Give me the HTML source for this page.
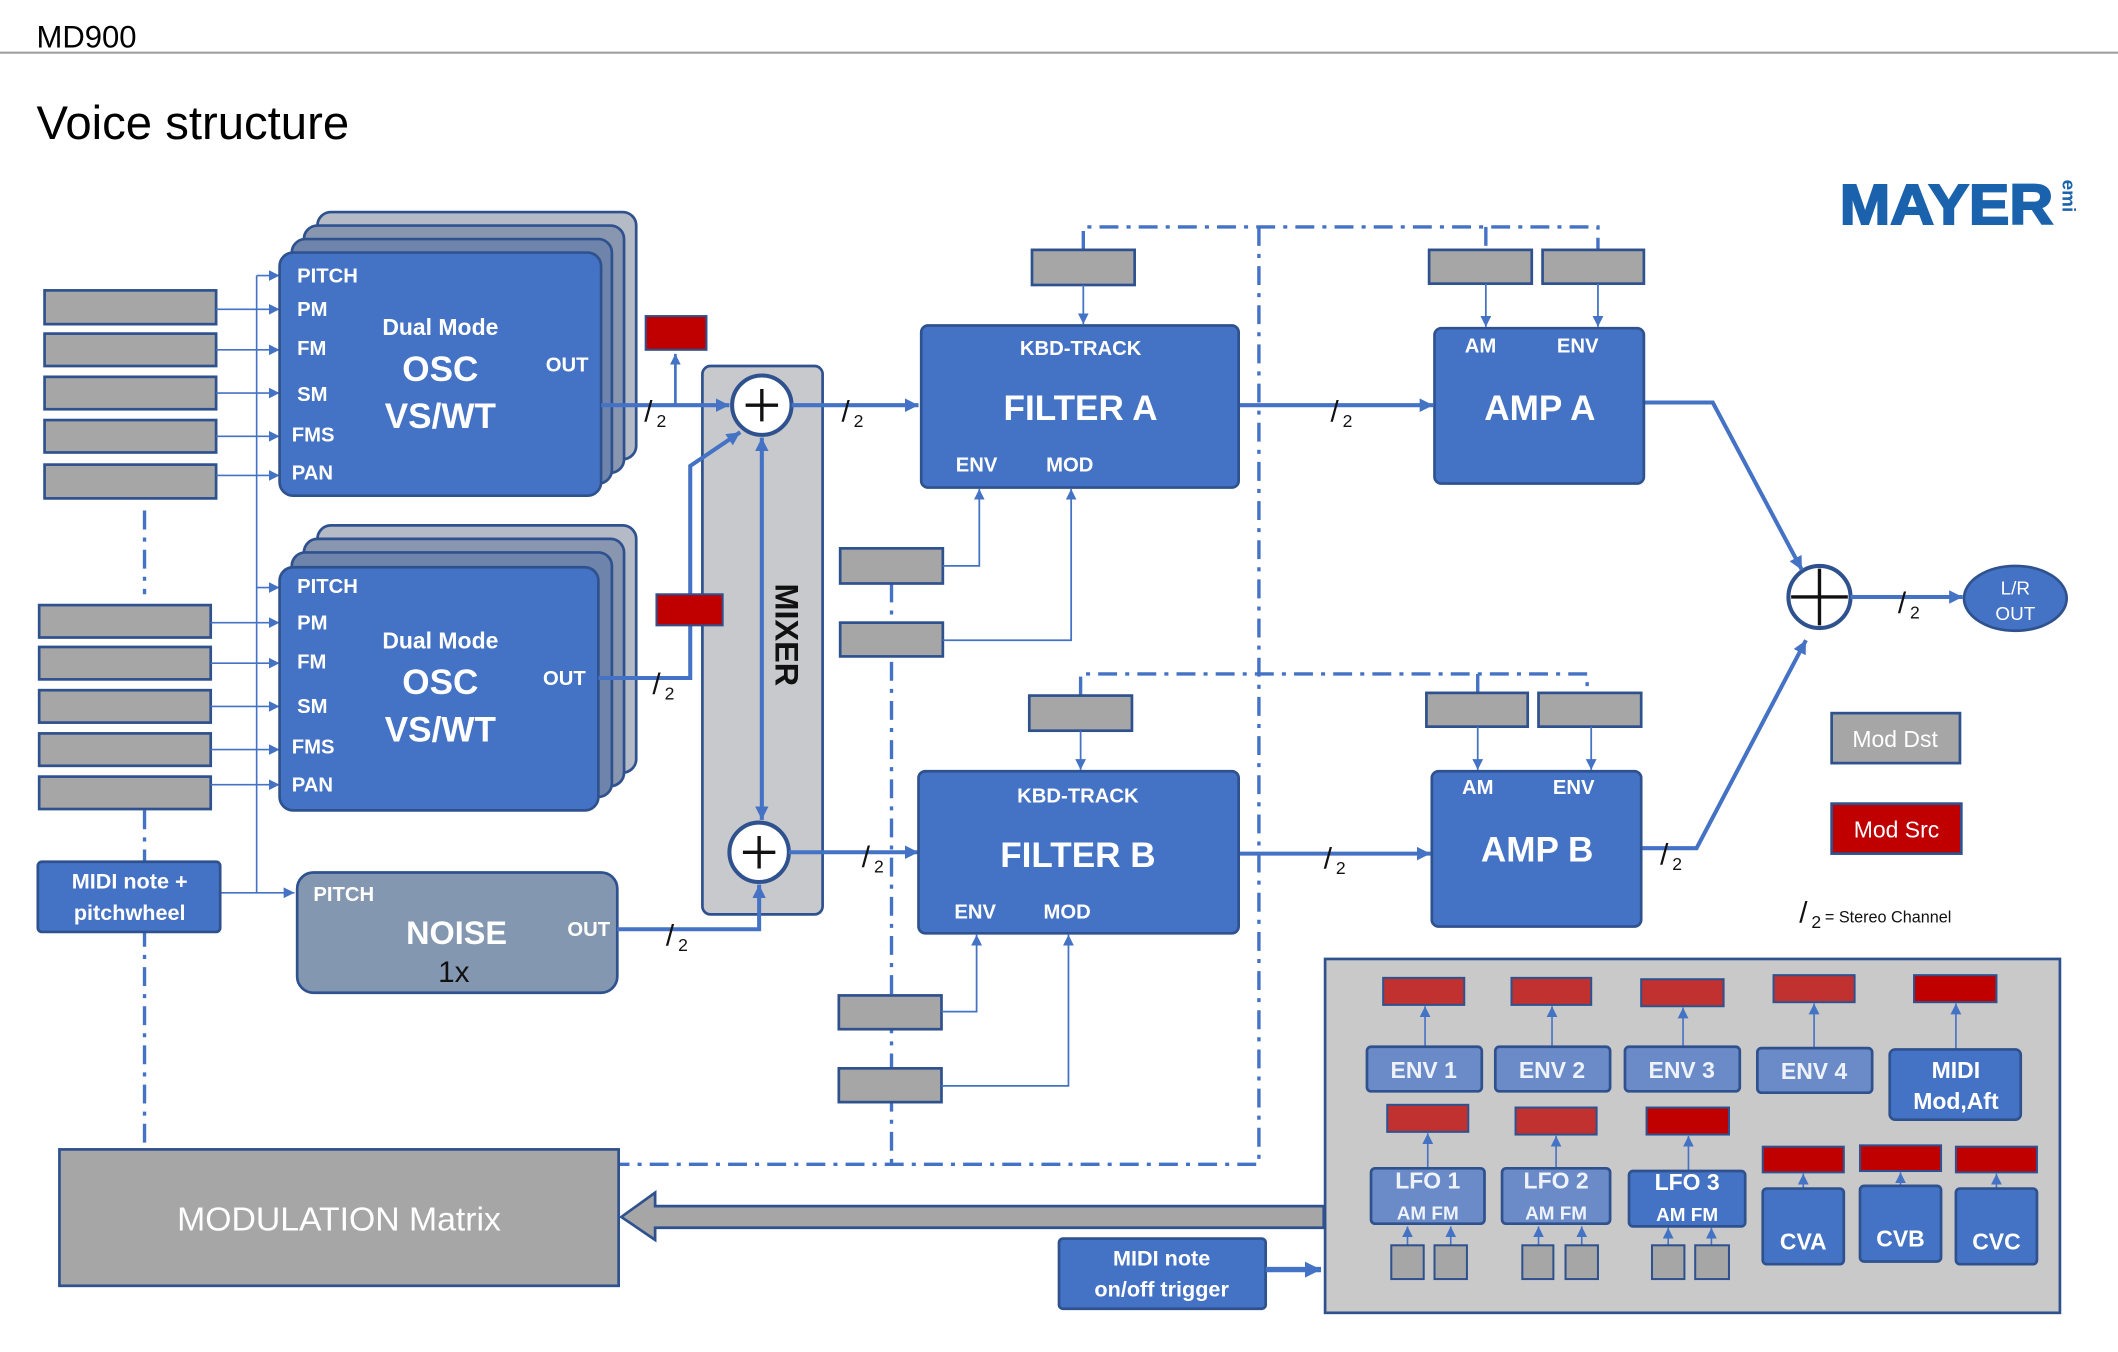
<!DOCTYPE html>
<html><head><meta charset="utf-8"><style>
html,body{margin:0;padding:0;background:#fff;}
svg{display:block;}
text{font-family:"Liberation Sans",sans-serif;}
.w{fill:#fff;font-weight:bold;}
</style></head><body>
<svg width="2118" height="1352" viewBox="0 0 1568 1001" preserveAspectRatio="none" xmlns="http://www.w3.org/2000/svg">
<defs>
<marker id="a" markerUnits="userSpaceOnUse" markerWidth="12" markerHeight="12" refX="10" refY="5" orient="auto-start-reverse"><path d="M0,0 L10,5 L0,10 z" fill="#4472c4"/></marker>
<marker id="as" markerUnits="userSpaceOnUse" markerWidth="10" markerHeight="10" refX="8" refY="4" orient="auto"><path d="M0,0 L8,4 L0,8 z" fill="#4472c4"/></marker>
<marker id="ab" markerUnits="userSpaceOnUse" markerWidth="14" markerHeight="14" refX="12" refY="6" orient="auto"><path d="M0,0 L12,6 L0,12 z" fill="#4472c4"/></marker>
</defs>
<!-- header -->
<text x="27" y="35" font-size="23" fill="#000">MD900</text>
<line x1="0" y1="39" x2="1568" y2="39" stroke="#a0a0a0" stroke-width="1.5"/>
<text x="27" y="103" font-size="35" fill="#000">Voice structure</text>
<text x="1362" y="166" font-size="42" font-weight="900" fill="#1b62ad" textLength="158" lengthAdjust="spacingAndGlyphs" stroke="#1b62ad" stroke-width="1.5">MAYER</text>
<text x="0" y="0" font-size="14" font-weight="bold" fill="#1b62ad" transform="translate(1527,133) rotate(90)">emi</text>

<!-- dash-dot lines -->
<g stroke="#4472c4" stroke-width="2.5" fill="none" stroke-dasharray="14,6,3,6">
<path d="M107,378 V440"/>
<path d="M107,600 V850"/>
<path d="M802,185 V168 H1183 V185"/>
<path d="M1100,168 V185"/>
<path d="M932,168 V862 H458"/>
<path d="M660,432 V862"/>
<path d="M800,515 V499 H1175 V513"/>
<path d="M1094,499 V513"/>
</g>

<!-- left input boxes -->
<g fill="#a6a6a6" stroke="#2f528f" stroke-width="2">
<rect x="33" y="215" width="127" height="25"/><rect x="33" y="247" width="127" height="24"/><rect x="33" y="279" width="127" height="24"/><rect x="33" y="311" width="127" height="24"/><rect x="33" y="344" width="127" height="25"/>
<rect x="29" y="448" width="127" height="24"/><rect x="29" y="479" width="127" height="24"/><rect x="29" y="511" width="127" height="24"/><rect x="29" y="543" width="127" height="24"/><rect x="29" y="575" width="127" height="24"/>
</g>
<g stroke="#4472c4" stroke-width="1.2" fill="none" marker-end="url(#as)">
<path d="M160,229 H207"/><path d="M160,259 H207"/><path d="M160,291 H207"/><path d="M160,323 H207"/><path d="M160,352 H207"/>
<path d="M156,461 H207"/><path d="M156,491 H207"/><path d="M156,523 H207"/><path d="M156,555 H207"/><path d="M156,581 H207"/>
<path d="M190,204 H207"/><path d="M190,435 H207"/><path d="M163,661 H218"/>
</g>
<line x1="190" y1="204" x2="190" y2="661" stroke="#4472c4" stroke-width="1.2"/>

<!-- OSC -->
<g stroke="#2f528f" stroke-width="2">
<rect x="235" y="157" width="236" height="183" rx="10" fill="#b4bac6"/>
<rect x="225" y="167" width="237" height="183" rx="10" fill="#8896b0"/>
<rect x="216" y="177" width="237" height="181" rx="10" fill="#6f84ab"/>
<rect x="207" y="187" width="238" height="180" rx="10" fill="#4472c4"/>
<rect x="235" y="389" width="236" height="183" rx="10" fill="#b4bac6"/>
<rect x="225" y="399" width="237" height="183" rx="10" fill="#8896b0"/>
<rect x="216" y="409" width="237" height="181" rx="10" fill="#6f84ab"/>
<rect x="207" y="420" width="236" height="180" rx="10" fill="#4472c4"/>
</g>
<g class="w" font-size="15">
<text x="220" y="209">PITCH</text><text x="220" y="234">PM</text><text x="220" y="263">FM</text><text x="220" y="297">SM</text><text x="216" y="327">FMS</text><text x="216" y="355">PAN</text><text x="404" y="275">OUT</text>
<text x="220" y="439">PITCH</text><text x="220" y="466">PM</text><text x="220" y="495">FM</text><text x="220" y="528">SM</text><text x="216" y="558">FMS</text><text x="216" y="586">PAN</text><text x="402" y="507">OUT</text>
</g>
<g class="w" text-anchor="middle">
<text x="326" y="248" font-size="17">Dual Mode</text><text x="326" y="282" font-size="26">OSC</text><text x="326" y="317" font-size="26">VS/WT</text>
<text x="326" y="480" font-size="17">Dual Mode</text><text x="326" y="514" font-size="26">OSC</text><text x="326" y="549" font-size="26">VS/WT</text>
</g>

<!-- NOISE -->
<rect x="220" y="646" width="237" height="89" rx="12" fill="#8497b0" stroke="#2f528f" stroke-width="2"/>
<text x="232" y="667" class="w" font-size="15">PITCH</text>
<text x="338" y="699" class="w" font-size="24" text-anchor="middle">NOISE</text>
<text x="336" y="727" font-size="22" text-anchor="middle" fill="#111">1x</text>
<text x="420" y="693" class="w" font-size="15">OUT</text>

<!-- MIXER -->
<rect x="520" y="271" width="89" height="406" rx="6" fill="#c8c9cc" stroke="#2f528f" stroke-width="2"/>
<text x="0" y="0" font-size="24" font-weight="bold" fill="#111" transform="translate(574,432) rotate(90)">MIXER</text>
<line x1="564" y1="324" x2="564" y2="607" stroke="#4472c4" stroke-width="3" marker-end="url(#a)" marker-start="url(#a)"/>
<g fill="#fff" stroke="#2f528f" stroke-width="3">
<circle cx="564" cy="300" r="22"/><circle cx="562" cy="631" r="22"/><circle cx="1347" cy="442" r="23"/>
</g>
<g stroke="#111" stroke-width="2.5">
<path d="M552,300 H576 M564,288 V312"/><path d="M550,631 H574 M562,619 V643"/><path d="M1326,442 H1368 M1347,421 V463"/>
</g>

<!-- thick signal lines -->
<g stroke="#4472c4" stroke-width="3" fill="none">
<path d="M445,300 H540" marker-end="url(#a)"/>
<path d="M443,502 H511 V345 L548,320" marker-end="url(#a)"/>
<path d="M457,688 H562 V655" marker-end="url(#a)"/>
<path d="M586,300 H680" marker-end="url(#a)"/>
<path d="M584,631 H680" marker-end="url(#a)"/>
<path d="M917,300 H1061" marker-end="url(#a)"/>
<path d="M917,632 H1059" marker-end="url(#a)"/>
<path d="M1217,298 H1268 L1334,422" marker-end="url(#a)"/>
<path d="M1215,628 H1256 L1337,474" marker-end="url(#a)"/>
<path d="M1370,442 H1453" marker-end="url(#a)"/>
<path d="M500,300 V262" stroke-width="2" marker-end="url(#as)"/>
</g>
<!-- /2 labels -->
<g font-size="22" fill="#111">
<text x="477" y="312">/</text><text x="486" y="316" font-size="13">2</text>
<text x="483" y="514">/</text><text x="492" y="518" font-size="13">2</text>
<text x="493" y="700">/</text><text x="502" y="704" font-size="13">2</text>
<text x="623" y="312">/</text><text x="632" y="316" font-size="13">2</text>
<text x="638" y="642">/</text><text x="647" y="646" font-size="13">2</text>
<text x="985" y="312">/</text><text x="994" y="316" font-size="13">2</text>
<text x="980" y="643">/</text><text x="989" y="647" font-size="13">2</text>
<text x="1229" y="640">/</text><text x="1238" y="644" font-size="13">2</text>
<text x="1405" y="454">/</text><text x="1414" y="458" font-size="13">2</text>
<text x="1332" y="683">/</text><text x="1341" y="687" font-size="13">2</text>
<text x="1351" y="683" font-size="12">= Stereo Channel</text>
</g>
<rect x="478" y="234" width="45" height="25" fill="#c00000" stroke="#2f528f" stroke-width="1.5"/>
<rect x="486" y="440" width="49" height="23" fill="#c00000" stroke="#2f528f" stroke-width="1.5"/>

<!-- FILTERS / AMPS -->
<g fill="#4472c4" stroke="#2f528f" stroke-width="2">
<rect x="682" y="241" width="235" height="120" rx="5"/>
<rect x="680" y="571" width="237" height="120" rx="5"/>
<rect x="1062" y="243" width="155" height="115" rx="5"/>
<rect x="1060" y="571" width="155" height="115" rx="5"/>
<ellipse cx="1492" cy="443" rx="38" ry="24"/>
</g>
<g class="w" text-anchor="middle">
<text x="800" y="263" font-size="15">KBD-TRACK</text><text x="800" y="311" font-size="26">FILTER A</text>
<text x="723" y="349" font-size="15">ENV</text><text x="792" y="349" font-size="15">MOD</text>
<text x="798" y="594" font-size="15">KBD-TRACK</text><text x="798" y="642" font-size="26">FILTER B</text>
<text x="722" y="680" font-size="15">ENV</text><text x="790" y="680" font-size="15">MOD</text>
<text x="1096" y="261" font-size="15">AM</text><text x="1168" y="261" font-size="15">ENV</text><text x="1140" y="311" font-size="26">AMP A</text>
<text x="1094" y="588" font-size="15">AM</text><text x="1165" y="588" font-size="15">ENV</text><text x="1138" y="638" font-size="26">AMP B</text>
</g>
<g fill="#fff" font-size="14" text-anchor="middle"><text x="1492" y="440">L/R</text><text x="1492" y="459">OUT</text></g>

<g fill="#a6a6a6" stroke="#2f528f" stroke-width="2">
<rect x="764" y="185" width="76" height="26"/><rect x="1058" y="185" width="76" height="25"/><rect x="1142" y="185" width="75" height="25"/>
<rect x="762" y="515" width="76" height="26"/><rect x="1056" y="513" width="75" height="25"/><rect x="1139" y="513" width="76" height="25"/>
<rect x="622" y="406" width="76" height="26"/><rect x="622" y="461" width="76" height="25"/>
<rect x="621" y="737" width="76" height="25"/><rect x="621" y="791" width="76" height="25"/>
</g>
<g stroke="#4472c4" stroke-width="1.3" fill="none" marker-end="url(#as)">
<path d="M802,211 V240"/><path d="M1100,210 V242"/><path d="M1183,210 V242"/>
<path d="M800,541 V570"/><path d="M1094,538 V570"/><path d="M1178,538 V570"/>
<path d="M698,419 H725 V362"/><path d="M698,474 H793 V362"/>
<path d="M697,749 H723 V692"/><path d="M697,804 H791 V692"/>
</g>

<!-- legend -->
<rect x="1356" y="528" width="95" height="37" fill="#a6a6a6" stroke="#2f528f" stroke-width="2"/>
<text x="1403" y="553" font-size="17" fill="#fff" text-anchor="middle">Mod Dst</text>
<rect x="1356" y="595" width="96" height="37" fill="#c00000" stroke="#2f528f" stroke-width="2"/>
<text x="1404" y="620" font-size="17" fill="#fff" text-anchor="middle">Mod Src</text>

<!-- MIDI note + pitchwheel -->
<rect x="28" y="638" width="135" height="52" rx="3" fill="#4472c4" stroke="#2f528f" stroke-width="2"/>
<text x="96" y="658" class="w" font-size="16" text-anchor="middle">MIDI note +</text>
<text x="96" y="681" class="w" font-size="16" text-anchor="middle">pitchwheel</text>

<!-- Modulation matrix -->
<rect x="44" y="851" width="414" height="101" fill="#a6a6a6" stroke="#2f528f" stroke-width="2"/>
<text x="251" y="911" font-size="25" fill="#fff" text-anchor="middle">MODULATION Matrix</text>
<path d="M980,893 H485 V883 L460,901 L485,918 V909 H980 z" fill="#a6a6a6" stroke="#2f528f" stroke-width="2"/>
<rect x="784" y="917" width="153" height="52" rx="3" fill="#4472c4" stroke="#2f528f" stroke-width="2"/>
<text x="860" y="937" class="w" font-size="16" text-anchor="middle">MIDI note</text>
<text x="860" y="960" class="w" font-size="16" text-anchor="middle">on/off trigger</text>
<path d="M937,940 H978" stroke="#4472c4" stroke-width="4" marker-end="url(#ab)"/>

<!-- Mod source panel -->
<rect x="981" y="710" width="544" height="262" fill="#c9c9c9" stroke="#2f528f" stroke-width="2"/>
<g stroke="#4472c4" stroke-width="1.2" fill="none" marker-end="url(#as)">
<path d="M1055,775 V745"/><path d="M1149,775 V745"/><path d="M1246,775 V746"/><path d="M1343,776 V743"/><path d="M1448,777 V743"/>
<path d="M1057,865 V839"/><path d="M1152,865 V841"/><path d="M1250,867 V841"/>
<path d="M1335,880 V869"/><path d="M1407,878 V868"/><path d="M1478,880 V869"/>
<path d="M1042,922 V908"/><path d="M1074,922 V908"/><path d="M1139,922 V908"/><path d="M1171,922 V908"/><path d="M1235,922 V909"/><path d="M1267,922 V909"/>
</g>
<g stroke="#2f528f" stroke-width="1.5">
<g fill="#c0312f">
<rect x="1024" y="724" width="60" height="20"/><rect x="1119" y="724" width="59" height="20"/><rect x="1215" y="725" width="61" height="20"/><rect x="1313" y="722" width="60" height="20"/>
<rect x="1027" y="818" width="60" height="20"/><rect x="1122" y="820" width="60" height="20"/>
</g>
<g fill="#c00000">
<rect x="1417" y="722" width="61" height="20"/><rect x="1219" y="820" width="61" height="20"/>
<rect x="1305" y="849" width="60" height="19"/><rect x="1377" y="848" width="60" height="19"/><rect x="1448" y="849" width="60" height="19"/>
</g>
<g fill="#6a8bc7" stroke-width="2">
<rect x="1012" y="775" width="85" height="33" rx="3"/><rect x="1107" y="775" width="85" height="33" rx="3"/><rect x="1203" y="775" width="85" height="33" rx="3"/><rect x="1301" y="776" width="85" height="33" rx="3"/>
<rect x="1015" y="865" width="84" height="41" rx="3"/><rect x="1112" y="865" width="80" height="41" rx="3"/>
</g>
<g fill="#4472c4" stroke-width="2">
<rect x="1399" y="777" width="97" height="52" rx="4"/><rect x="1206" y="867" width="86" height="41" rx="3"/>
<rect x="1305" y="880" width="60" height="56" rx="3"/><rect x="1377" y="878" width="60" height="56" rx="3"/><rect x="1448" y="880" width="60" height="56" rx="3"/>
</g>
<g fill="#a6a6a6">
<rect x="1030" y="922" width="24" height="25"/><rect x="1062" y="922" width="24" height="25"/><rect x="1127" y="922" width="23" height="25"/><rect x="1159" y="922" width="24" height="25"/><rect x="1223" y="922" width="24" height="25"/><rect x="1255" y="922" width="25" height="25"/>
</g>
</g>
<g fill="#eef2fa" font-weight="bold" text-anchor="middle" font-size="17">
<text x="1054" y="798">ENV 1</text><text x="1149" y="798">ENV 2</text><text x="1245" y="798">ENV 3</text><text x="1343" y="799">ENV 4</text>
<text x="1057" y="880">LFO 1</text><text x="1152" y="880">LFO 2</text>
<text x="1057" y="903" font-size="14">AM  FM</text><text x="1152" y="903" font-size="14">AM  FM</text>
</g>
<g class="w" text-anchor="middle" font-size="17">
<text x="1448" y="798">MIDI</text><text x="1448" y="821">Mod,Aft</text>
<text x="1249" y="881">LFO 3</text><text x="1249" y="904" font-size="14">AM  FM</text>
<text x="1335" y="925">CVA</text><text x="1407" y="923">CVB</text><text x="1478" y="925">CVC</text>
</g>
</svg>
</body></html>
